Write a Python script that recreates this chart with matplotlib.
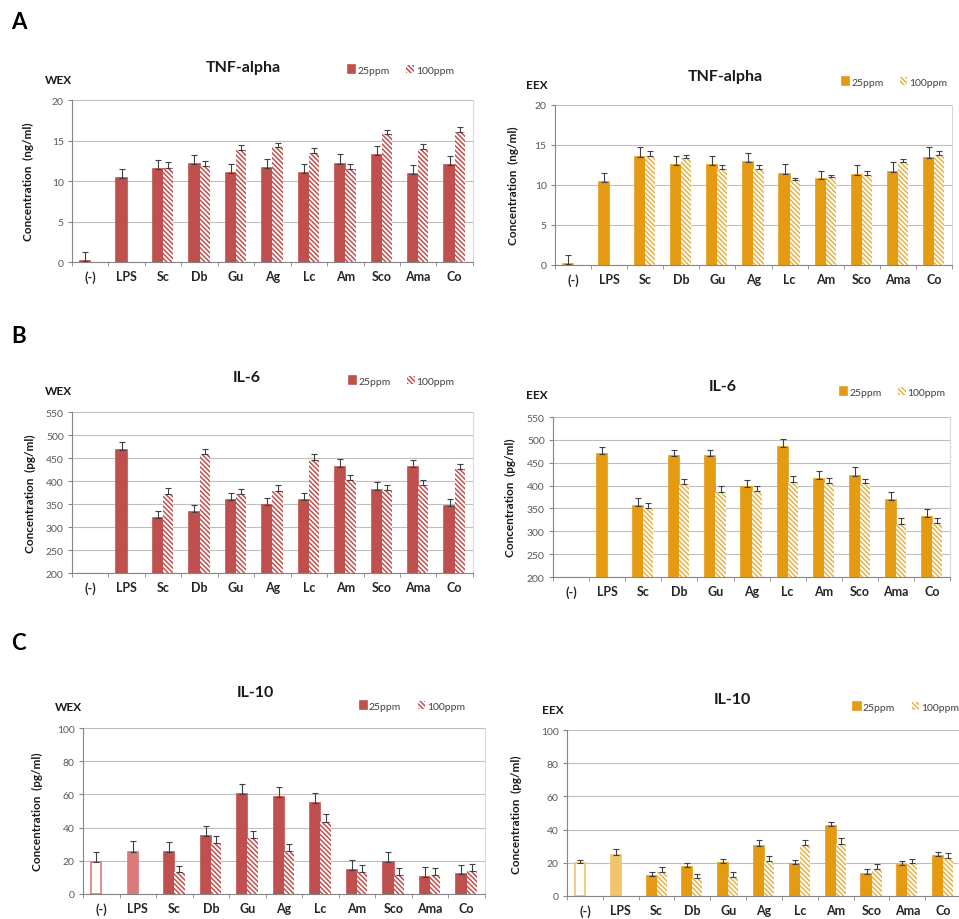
import numpy as np
import matplotlib.pyplot as plt
from matplotlib.ticker import FixedLocator

plt.rcParams['font.family'] = ['Lato', 'DejaVu Sans']
plt.rcParams['hatch.linewidth'] = 1.1

categories = ['(-)', 'LPS', 'Sc', 'Db', 'Gu', 'Ag', 'Lc', 'Am', 'Sco', 'Ama', 'Co']
nan = np.nan

# TNF-alpha (ng/ml)
tnf_wex_25 = [0.1, 10.4, 11.5, 12.1, 11.0, 11.6, 11.0, 12.1, 13.2, 10.9, 12.0]
tnf_wex_25_err = [1.1, 1.1, 1.1, 1.1, 1.1, 1.1, 1.1, 1.2, 1.1, 1.1, 1.1]
tnf_wex_100 = [nan, nan, 11.6, 11.85, 13.8, 14.2, 13.5, 11.5, 15.8, 13.9, 16.0]
tnf_wex_100_err = [nan, nan, 0.7, 0.6, 0.6, 0.5, 0.6, 0.6, 0.5, 0.7, 0.7]

tnf_eex_25 = [0.1, 10.35, 13.5, 12.5, 12.5, 12.85, 11.35, 10.7, 11.3, 11.65, 13.4]
tnf_eex_25_err = [1.2, 1.15, 1.2, 1.1, 1.1, 1.2, 1.25, 1.1, 1.2, 1.25, 1.3]
tnf_eex_100 = [nan, nan, 13.6, 13.35, 12.0, 12.05, 10.6, 11.0, 11.3, 12.85, 13.7]
tnf_eex_100_err = [nan, nan, 0.6, 0.4, 0.5, 0.45, 0.3, 0.3, 0.4, 0.45, 0.5]

# IL-6 (pg/ml)
il6_wex_25 = [0, 467, 319, 333, 359, 348, 359, 431, 380, 431, 346]
il6_wex_25_err = [0, 18, 17, 15, 16, 16, 16, 16, 17, 14, 16]
il6_wex_100 = [nan, nan, 372, 458, 372, 378, 445, 403, 380, 391, 427]
il6_wex_100_err = [nan, nan, 13, 11, 10, 14, 14, 10, 12, 12, 11]

il6_eex_25 = [0, 469, 356, 464, 464, 396, 485, 414, 422, 368, 332]
il6_eex_25_err = [0, 15, 17, 15, 15, 17, 17, 17, 18, 19, 16]
il6_eex_100 = [nan, nan, 351, 403, 387, 389, 407, 406, 406, 317, 319]
il6_eex_100_err = [nan, nan, 12, 12, 13, 11, 13, 11, 9, 13, 11]

# IL-10 (pg/ml)
il10_wex_25 = [19, 25.3, 25.3, 35, 60, 58.4, 54.8, 14.7, 19, 10.4, 12]
il10_wex_25_err = [6, 6.4, 6.2, 6, 6, 6.3, 5.8, 5.6, 6, 5.6, 5.5]
il10_wex_100 = [nan, nan, 13, 30.7, 33.7, 26, 43.6, 13.5, 11.6, 11.4, 14]
il10_wex_100_err = [nan, nan, 4, 4, 4.3, 4, 4.4, 4, 4.1, 4.1, 4]

il10_eex_25 = [19.6, 24.8, 12.1, 17.3, 19.6, 30.4, 19.2, 42, 13.3, 18.8, 24.4]
il10_eex_25_err = [1.8, 3.4, 2.2, 2.5, 2.4, 3.1, 2.6, 2.8, 2.8, 2.4, 2.4]
il10_eex_100 = [nan, nan, 14.7, 10.7, 11.7, 20.8, 30.8, 31.3, 16.1, 19.8, 22.8]
il10_eex_100_err = [nan, nan, 3, 2.6, 2.6, 3, 3.2, 3.6, 3.1, 2.6, 3]

RED = '#C0504D'
RED_LIGHT = '#DA7A7A'
ORANGE = '#E49B12'
ORANGE_LIGHT = '#F1C46E'
ORANGE_HATCH = '#E6B24A'

fig = plt.figure(figsize=(9.59, 9.2), dpi=100)


def draw_panel(rect, v25, e25, v100, e100, ylim, yticks, color, hatch_color,
               title, tpos, tag, tagpos, unit, ylpos, legpos, il10=False):
    ax = fig.add_axes(rect)
    x = np.arange(len(categories))
    w = 0.28
    v25 = np.array(v25, dtype=float)
    v100 = np.array(v100, dtype=float)
    face25 = [color] * len(categories)
    edge25 = [color] * len(categories)
    if il10:
        light = RED_LIGHT if color == RED else ORANGE_LIGHT
        face25[0] = 'white'
        edge25[0] = light
        face25[1] = light
        edge25[1] = light
    b1 = ax.bar(x - w / 2, v25, w, color=face25, edgecolor=edge25,
                linewidth=1.2, label='25ppm', zorder=2)
    b2 = ax.bar(x + w / 2, v100, w, color='white', edgecolor=hatch_color,
                hatch='\\' * 7, linewidth=0, label='100ppm', zorder=2)
    ax.errorbar(x - w / 2, v25, yerr=[np.zeros(len(e25)), e25], fmt='none',
                ecolor='#404040', elinewidth=0.8, capsize=2, capthick=0.8, zorder=3)
    ax.errorbar(x + w / 2, v100, yerr=[np.zeros(len(e100)), e100], fmt='none',
                ecolor='#404040', elinewidth=0.8, capsize=2, capthick=0.8, zorder=3)

    ax.set_xlim(-0.5, len(categories) - 0.5)
    ax.set_ylim(*ylim)
    ax.set_yticks(yticks)
    ax.yaxis.grid(True, color='#BFBFBF', linewidth=0.8, zorder=0)
    ax.set_axisbelow(True)
    ax.set_xticks(x)
    ax.set_xticklabels(categories, fontsize=9, fontweight='bold', color='#262626')
    ax.xaxis.set_minor_locator(FixedLocator(np.arange(-0.5, len(categories), 1)))
    ax.tick_params(axis='x', which='major', length=0, pad=6)
    ax.tick_params(axis='x', which='minor', length=3, color='#868686', direction='out')
    ax.tick_params(axis='y', length=3, color='#868686', labelsize=7.5,
                   labelcolor='#595959', pad=3)
    ax.spines['top'].set_visible(False)
    ax.spines['right'].set_color('#D9D9D9')
    ax.spines['left'].set_color('#868686')
    ax.spines['bottom'].set_color('#868686')

    fig.text(tpos[0], tpos[1], title, ha='center', va='center',
             fontsize=11.5, fontweight='bold', color='#1a1a1a')
    fig.text(tagpos[0], tagpos[1], tag, ha='left', va='center',
             fontsize=8.5, fontweight='bold', color='#1a1a1a')
    fig.text(ylpos[0], ylpos[1], 'Concentration  (%s)' % unit, rotation=90,
             ha='center', va='center', fontsize=8.5, fontweight='bold', color='#1a1a1a')
    ax.legend(handles=[b1[2], b2[2]], labels=['25ppm', '100ppm'], loc='center',
              bbox_to_anchor=legpos, bbox_transform=fig.transFigure, ncol=2,
              frameon=False, fontsize=7.5, handlelength=0.7, handleheight=0.7,
              handletextpad=0.2, columnspacing=1.6, labelcolor='#404040')
    return ax


draw_panel([0.0751, 0.7141, 0.418, 0.176], tnf_wex_25, tnf_wex_25_err, tnf_wex_100,
           tnf_wex_100_err, (0, 20), [0, 5, 10, 15, 20], RED, RED, 'TNF-alpha',
           (0.2534, 0.926), 'WEX', (0.047, 0.912), 'ng/ml', (0.0292, 0.802),
           (0.418, 0.9228))
draw_panel([0.5787, 0.7109, 0.414, 0.1739], tnf_eex_25, tnf_eex_25_err, tnf_eex_100,
           tnf_eex_100_err, (0, 20), [0, 5, 10, 15, 20], ORANGE, ORANGE_HATCH,
           'TNF-alpha', (0.756, 0.916), 'EEX', (0.549, 0.9076), 'ng/ml',
           (0.535, 0.798), (0.933, 0.9098))
draw_panel([0.0751, 0.376, 0.418, 0.175], il6_wex_25, il6_wex_25_err, il6_wex_100,
           il6_wex_100_err, (200, 550), list(range(200, 551, 50)), RED, RED, 'IL-6',
           (0.2576, 0.589), 'WEX', (0.047, 0.574), 'pg/ml', (0.0313, 0.4636),
           (0.419, 0.5848))
draw_panel([0.5767, 0.3717, 0.414, 0.1739], il6_eex_25, il6_eex_25_err, il6_eex_100,
           il6_eex_100_err, (200, 550), list(range(200, 551, 50)), ORANGE,
           ORANGE_HATCH, 'IL-6', (0.754, 0.579), 'EEX', (0.549, 0.5696), 'pg/ml',
           (0.532, 0.4587), (0.931, 0.5728))
draw_panel([0.0866, 0.0272, 0.419, 0.1804], il10_wex_25, il10_wex_25_err, il10_wex_100,
           il10_wex_100_err, (0, 100), [0, 20, 40, 60, 80, 100], RED, RED, 'IL-10',
           (0.266, 0.2467), 'WEX', (0.0573, 0.2315), 'pg/ml', (0.0386, 0.1174),
           (0.430, 0.2315), il10=True)
draw_panel([0.5912, 0.0250, 0.411, 0.1804], il10_eex_25, il10_eex_25_err, il10_eex_100,
           il10_eex_100_err, (0, 100), [0, 20, 40, 60, 80, 100], ORANGE, ORANGE_HATCH,
           'IL-10', (0.764, 0.239), 'EEX', (0.565, 0.228), 'pg/ml', (0.539, 0.114),
           (0.945, 0.2304), il10=True)

for letter, yy in [('A', 0.976), ('B', 0.634), ('C', 0.301)]:
    fig.text(0.012, yy, letter, fontsize=16, fontweight='bold', va='center', ha='left')

fig.savefig('out.png', dpi=100)
